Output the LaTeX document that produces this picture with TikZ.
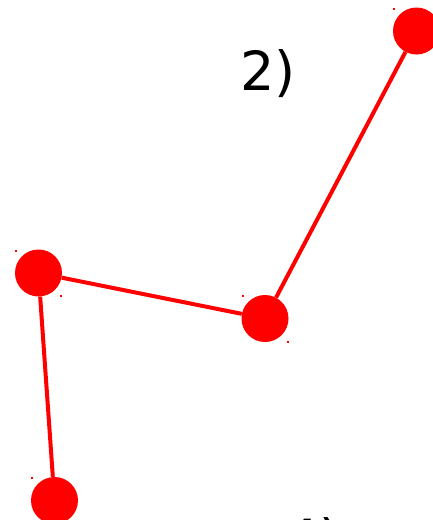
\documentclass[tikz,border=0pt]{standalone}
\usepackage{fontspec}
\setmainfont{DejaVu Sans}
\usetikzlibrary{positioning}

\begin{document}
\begin{tikzpicture}[
  x=1pt, y=-1pt,
  vertex/.style={circle, fill=red, minimum size=47pt, inner sep=0pt},
  link/.style={draw=red, line width=4pt},
  tick/.style={fill=red, minimum width=2pt, minimum height=1.5pt, inner sep=0pt},
  caption/.style={font=\fontsize{54}{56}\selectfont, anchor=base}
]
\useasboundingbox (0,0) rectangle (433,520);

\node[caption] (t2) at (268,90) {2)};
\node[caption] (t4) at (313,558) {4)};

\node[vertex] (a) at (38.5,273) {};
\node[vertex] (b) at (265,318.5) {};
\node[vertex] (c) at (416.5,31) {};
\node[vertex] (d) at (54.5,500.5) {};

\draw[link] (a) -- (b);
\draw[link] (b) -- (c);
\draw[link] (a) -- (d);

% small corner marks
\node[tick] (a1) at (16,251) {};
\node[tick] (a2) at (61,296) {};
\node[tick] (b1) at (243,296) {};
\node[tick] (b2) at (288,342) {};
\node[tick] (c1) at (394,9) {};
\node[tick] (d1) at (32,478) {};
\end{tikzpicture}
\end{document}
